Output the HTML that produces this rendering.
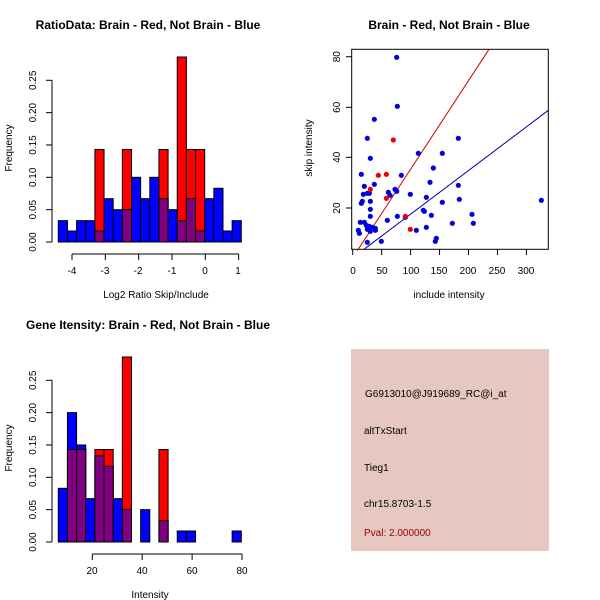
<!DOCTYPE html>
<html><head><meta charset="utf-8"><style>
html,body{margin:0;padding:0;background:#fff;}
svg{display:block;font-family:"Liberation Sans",sans-serif;}
</style></head><body>
<svg id="s" width="600" height="600" xmlns="http://www.w3.org/2000/svg">
<rect width="600" height="600" fill="#fff"/>
<g font-size="12" font-weight="bold" text-anchor="middle">
<text x="148" y="29">RatioData: Brain - Red, Not Brain - Blue</text>
<text x="449" y="29">Brain - Red, Not Brain - Blue</text>
<text x="148" y="329">Gene Itensity: Brain - Red, Not Brain - Blue</text>
</g>
<g font-size="10" text-anchor="middle">
<text x="156" y="298">Log2 Ratio Skip/Include</text>
<text x="449" y="298">include intensity</text>
<text x="150" y="598">Intensity</text>
<text transform="translate(12,148) rotate(-90)">Frequency</text>
<text transform="translate(12,448) rotate(-90)">Frequency</text>
<text transform="translate(312,148) rotate(-90)">skip intensity</text>
</g>
<g id="g1" stroke="#000" stroke-width="1"></g>
<g id="g2"></g>
<g id="g3" stroke="#000" stroke-width="1"></g>
<rect x="351" y="349" width="198" height="202" fill="#e6c8c0"/>
<g font-size="10">
<text x="365" y="397">G6913010@J919689_RC@i_at</text>
<text x="364" y="434">altTxStart</text>
<text x="364" y="471">Tieg1</text>
<text x="364" y="507">chr15.8703-1.5</text>
<text x="364" y="536" fill="#a00000">Pval: 2.000000</text>
</g>
<g font-size="10" text-anchor="middle">
<text x="72" y="274">-4</text><text x="105" y="274">-3</text><text x="138" y="274">-2</text><text x="172" y="274">-1</text><text x="205" y="274">0</text><text x="238" y="274">1</text>
<text x="92" y="574">20</text><text x="142" y="574">40</text><text x="192" y="574">60</text><text x="242" y="574">80</text>
<text x="353" y="274">0</text><text x="382" y="274">50</text><text x="411" y="274">100</text><text x="439" y="274">150</text><text x="468" y="274">200</text><text x="497" y="274">250</text><text x="526" y="274">300</text>
</g>
<g font-size="10" text-anchor="middle" id="ylabs"></g>
</svg>
<script>
var NS="http://www.w3.org/2000/svg";
function el(p,t,a,txt){var e=document.createElementNS(NS,t);for(var k in a)e.setAttribute(k,a[k]);if(txt!=null)e.textContent=txt;p.appendChild(e);return e;}
var s=document.getElementById('s');
function hist(g,y0,blue,red){
  var x0=58.3,w=9.15,sc=646.8;
  for(var i=0;i<20;i++){
    var b=blue[i]||0,r=red[i]||0,x=x0+i*w;
    if(b>0)el(g,'rect',{x:x,y:y0-b*sc,width:w,height:b*sc,fill:'#0000ff'});
    if(r>0)el(g,'rect',{x:x,y:y0-r*sc,width:w,height:r*sc,fill:'#ff0000'});
    var m=Math.min(b,r);
    if(m>0)el(g,'rect',{x:x,y:y0-m*sc,width:w,height:m*sc,fill:'#800080'});
  }
  for(var j=0;j<=5;j++){var y=y0-j*0.05*sc;el(g,'line',{x1:46,x2:52,y1:y,y2:y});
    el(s,'text',{transform:'translate(36,'+y+') rotate(-90)','font-size':10,'text-anchor':'middle'},(j*0.05).toFixed(2));}
  el(g,'line',{x1:52,x2:52,y1:y0,y2:y0-0.25*sc});
}
var g1=document.getElementById('g1');
hist(g1,242,[.033,.017,.033,.033,.017,.067,.05,.05,.1,.067,.1,.067,.05,.033,.067,.017,.067,.083,.017,.033],
 {4:.143,7:.143,11:.143,13:.286,14:.143,15:.143});
el(g1,'line',{x1:72,x2:238.7,y1:254,y2:254});
for(var k=0;k<6;k++){var x=72+k*33.33;el(g1,'line',{x1:x,x2:x,y1:254,y2:260});}
var g3=document.getElementById('g3');
var b3=[.083,.2,.15,.067,.133,.117,.067,.05,0,.05,0,.033,0,.017,.017,0,0,0,0,.017];
hist(g3,542,b3,{1:.143,2:.143,4:.143,5:.143,7:.286,11:.143});
el(g3,'line',{x1:92.3,x2:242,y1:554,y2:554});
for(var k=0;k<4;k++){var x=92.3+k*49.9;el(g3,'line',{x1:x,x2:x,y1:554,y2:560});}
// scatter
var g2=document.getElementById('g2');
el(g2,'rect',{x:351.7,y:49.3,width:196.6,height:200,fill:'none',stroke:'#000'});
for(var k=0;k<7;k++){var x=352.7+k*28.95;el(g2,'line',{x1:x,x2:x,y1:249.3,y2:255,stroke:'#000'});}
var yl=[[20,208],[40,157.3],[60,107.3],[80,56.7]];
yl.forEach(function(v){el(g2,'line',{x1:346,x2:351.7,y1:v[1],y2:v[1],stroke:'#000'});
 el(s,'text',{transform:'translate(340,'+v[1]+') rotate(-90)','font-size':10,'text-anchor':'middle'},v[0]);});
function Z(x,y){return [340+x/3,40+y/3];}
var a=Z(72,628),b=Z(625,211);el(g2,'line',{x1:a[0],y1:a[1],x2:b[0],y2:b[1],stroke:'#0000aa'});
a=Z(52,632);b=Z(447,28);el(g2,'line',{x1:a[0],y1:a[1],x2:b[0],y2:b[1],stroke:'#cc0000'});
var bl=[[170,52],[172,199],[103,238],[82,295],[355,295],[91,355],[235,340],[307,340],[64,403],[184,406],[280,384],[73,439],[103,433],[270,427],[355,436],[70,463],[82,460],[88,460],[145,457],[150,466],[165,448],[170,454],[211,463],[259,472],[358,478],[64,490],[67,484],[91,484],[307,487],[91,508],[91,529],[172,529],[250,511],[253,514],[274,526],[396,523],[142,541],[196,532],[61,547],[73,547],[79,556],[88,559],[97,562],[55,571],[58,580],[82,568],[91,574],[106,565],[106,571],[229,571],[259,562],[337,550],[400,550],[82,607],[124,604],[289,595],[286,604],[604,481]];
bl.forEach(function(p){var q=Z(p[0],p[1]);el(g2,'circle',{cx:q[0],cy:q[1],r:2.6,fill:'#0000dd'});});
var rd=[[160,300],[115,406],[139,403],[91,448],[139,475],[211,568],[196,529]];
rd.forEach(function(p){var q=Z(p[0],p[1]);el(g2,'circle',{cx:q[0],cy:q[1],r:2.6,fill:'#ee0000'});});
</script>
</body></html>
